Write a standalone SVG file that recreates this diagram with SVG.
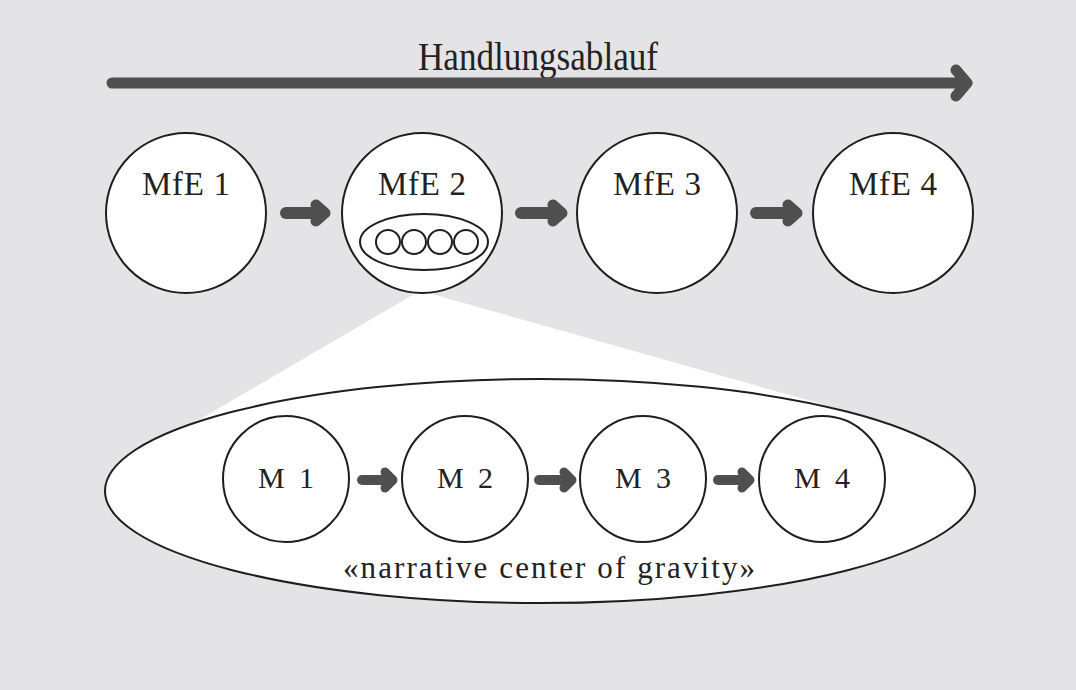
<svg xmlns="http://www.w3.org/2000/svg" width="1076" height="690" viewBox="0 0 1076 690">
  <defs>
    <style>
      .bg { fill: #e4e4e6; }
      .node { fill: #ffffff; stroke: #1e1e1e; stroke-width: 2; }
      .label { font-family: "Liberation Serif", "Times New Roman", serif; fill: #222222; text-anchor: middle; }
      .mfe { font-size: 33px; }
      .m { font-size: 30px; }
      .shaft { stroke: #4f4f4f; stroke-linecap: round; fill: none; }
      .head { stroke: #4f4f4f; stroke-linecap: round; stroke-linejoin: round; fill: none; }
    </style>
  </defs>

  <rect class="bg" x="0" y="0" width="1076" height="690"/>

  <g id="title">
    <text class="label" x="538" y="70" font-size="40" textLength="240" lengthAdjust="spacingAndGlyphs">Handlungsablauf</text>
  </g>

  <g id="timeline-arrow">
    <line class="shaft" x1="112" y1="83" x2="963" y2="83" stroke-width="11"/>
    <polyline class="head" points="956,70 967,83 956,96" stroke-width="11"/>
  </g>

  <g id="zoom-wedge">
    <polygon points="416,293 428,293 868,417 540,470 192,424" fill="#ffffff"/>
  </g>

  <g id="mfe1">
    <circle class="node" cx="186" cy="213" r="80"/>
    <text class="label mfe" x="186" y="195" textLength="88" lengthAdjust="spacing">MfE 1</text>
  </g>
  <g id="mfe2">
    <circle class="node" cx="422" cy="213" r="80"/>
    <text class="label mfe" x="422" y="195" textLength="88" lengthAdjust="spacing">MfE 2</text>
    <ellipse class="node" cx="424" cy="242" rx="64" ry="28"/>
    <circle class="node" cx="388" cy="242" r="12"/>
    <circle class="node" cx="414" cy="242" r="12"/>
    <circle class="node" cx="440" cy="242" r="12"/>
    <circle class="node" cx="466" cy="242" r="12"/>
  </g>
  <g id="mfe3">
    <circle class="node" cx="657" cy="213" r="80"/>
    <text class="label mfe" x="657" y="195" textLength="88" lengthAdjust="spacing">MfE 3</text>
  </g>
  <g id="mfe4">
    <circle class="node" cx="893" cy="213" r="80"/>
    <text class="label mfe" x="893" y="195" textLength="88" lengthAdjust="spacing">MfE 4</text>
  </g>

  <g id="gravity-ellipse">
    <ellipse class="node" cx="540" cy="491" rx="435" ry="112"/>
    <text class="label" x="549" y="578" font-size="31" textLength="412" lengthAdjust="spacing">«narrative center of gravity»</text>
  </g>

  <g id="m1">
    <circle class="node" cx="286" cy="479" r="63"/>
    <text class="label m" x="286" y="488" textLength="56" lengthAdjust="spacing">M 1</text>
  </g>
  <g id="m2">
    <circle class="node" cx="465" cy="479" r="63"/>
    <text class="label m" x="465" y="488" textLength="56" lengthAdjust="spacing">M 2</text>
  </g>
  <g id="m3">
    <circle class="node" cx="643" cy="479" r="63"/>
    <text class="label m" x="643" y="488" textLength="56" lengthAdjust="spacing">M 3</text>
  </g>
  <g id="m4">
    <circle class="node" cx="822" cy="479" r="63"/>
    <text class="label m" x="822" y="488" textLength="56" lengthAdjust="spacing">M 4</text>
  </g>

  <g id="connectors">
    <line class="shaft" x1="286" y1="213" x2="322" y2="213" stroke-width="12"/>
    <polyline class="head" points="316,205 325,213 316,221" stroke-width="11"/>
    <line class="shaft" x1="521" y1="213" x2="559" y2="213" stroke-width="12"/>
    <polyline class="head" points="553,205 562,213 553,221" stroke-width="11"/>
    <line class="shaft" x1="756" y1="213" x2="794" y2="213" stroke-width="12"/>
    <polyline class="head" points="788,205 797,213 788,221" stroke-width="11"/>

    <line class="shaft" x1="362" y1="480" x2="390" y2="480" stroke-width="10"/>
    <polyline class="head" points="385,472 393,480 385,488" stroke-width="9"/>
    <line class="shaft" x1="539" y1="480" x2="569" y2="480" stroke-width="10"/>
    <polyline class="head" points="564,472 572,480 564,488" stroke-width="9"/>
    <line class="shaft" x1="718" y1="480" x2="747" y2="480" stroke-width="10"/>
    <polyline class="head" points="742,472 750,480 742,488" stroke-width="9"/>
  </g>
</svg>
